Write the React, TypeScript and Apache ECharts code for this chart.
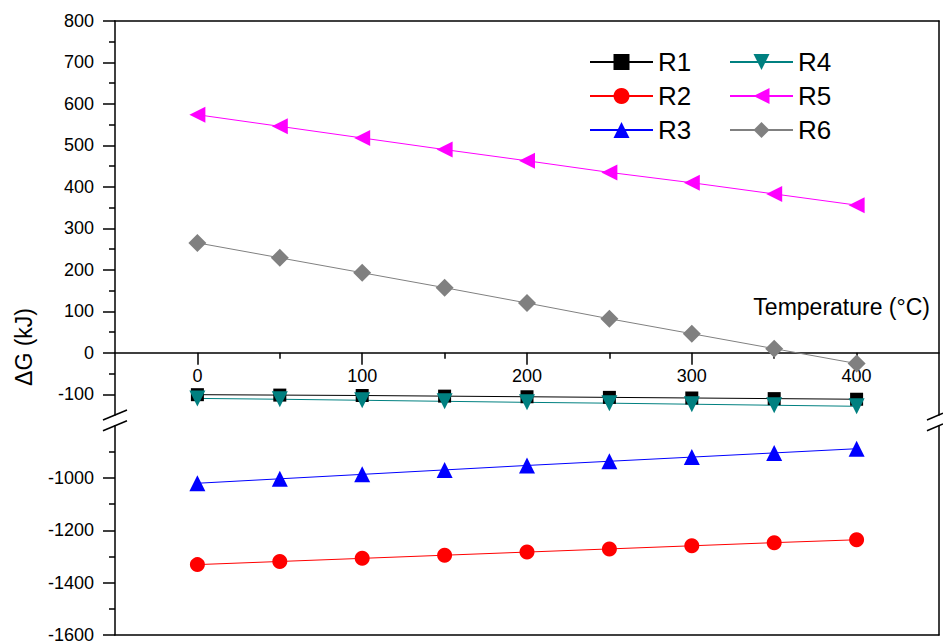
import React, { useEffect, useRef } from "react";
import * as echarts from "echarts";

const temps = [0, 50, 100, 150, 200, 250, 300, 350, 400];
const r1 = [-101, -102, -103, -104.5, -106, -107.5, -109, -110.5, -112];
const r2 = [-1331, -1319, -1307, -1295, -1283, -1271, -1259, -1247, -1236];
const r3 = [-1020, -1003, -986, -969, -952, -936, -920, -904, -888];
const r4 = [-110, -112, -114.5, -117, -119.5, -121.5, -124, -126.5, -129];
const r5 = [574, 546, 518, 490, 463, 435, 410, 383, 356];
const r6 = [265, 229, 193, 157, 120, 82, 46, 10, -26];

const xMajorTicks = [0, 100, 200, 300, 400];
const xMinorTicks = [50, 150, 250, 350];
const yUpperMajor = [-100, 0, 100, 200, 300, 400, 500, 600, 700, 800];
const yUpperMinor = [-50, 50, 150, 250, 350, 450, 550, 650, 750];
const yLowerMajor = [-1600, -1400, -1200, -1000];
const yLowerMinor = [-1500, -1300, -1100, -900];

const FONT = "'Liberation Sans', Arial, sans-serif";
const AX = "#000";
const LW = 1.5;

const UP_TOP = 21;
const UP_H = 394;
const UP_MIN = -150;
const UP_MAX = 800;
// pixel distance from the upper grid's bottom edge to its zero line
const ZERO_OFFSET = -(UP_H * (0 - UP_MIN)) / (UP_MAX - UP_MIN);

const pairs = (ys: number[]) => temps.map((t, i) => [t, ys[i]]);
const plain = (v: number) => String(v);

export default function App() {
  const ref = useRef<HTMLDivElement>(null);
  useEffect(() => {
    if (!ref.current) return;
    const chart = echarts.init(ref.current, null, { renderer: "svg" });
    const lineOnly = { show: true, onZero: false, lineStyle: { color: AX, width: LW } };
    const none = { show: false };
    const option: any = {
      animation: false,
      backgroundColor: "#fff",
      grid: [
        { left: 115, right: 4, top: UP_TOP, height: UP_H },
        { left: 115, right: 4, top: 425.7, height: 209.3 },
      ],
      xAxis: [
        {
          gridIndex: 0, type: "value", min: -50, max: 450, position: "bottom", offset: ZERO_OFFSET,
          axisLine: lineOnly,
          axisTick: { show: true, length: 12, customValues: xMajorTicks, lineStyle: { color: AX, width: LW } },
          axisLabel: { show: true, customValues: xMajorTicks, formatter: plain, fontSize: 18, fontFamily: FONT, color: "#000", margin: 14 },
          splitLine: none,
        },
        {
          gridIndex: 0, type: "value", min: -50, max: 450, position: "bottom", offset: ZERO_OFFSET,
          axisLine: { show: false, onZero: false },
          axisTick: { show: true, length: 6, customValues: xMinorTicks, lineStyle: { color: AX, width: LW } },
          axisLabel: none, splitLine: none,
        },
        {
          gridIndex: 0, type: "value", min: -50, max: 450, position: "top",
          axisLine: lineOnly, axisTick: none, axisLabel: none, splitLine: none,
        },
        {
          gridIndex: 1, type: "value", min: -50, max: 450, position: "bottom",
          axisLine: lineOnly, axisTick: none, axisLabel: none, splitLine: none,
        },
      ],
      yAxis: [
        {
          gridIndex: 0, type: "value", min: UP_MIN, max: UP_MAX, position: "left",
          axisLine: lineOnly,
          axisTick: { show: true, length: 12, customValues: yUpperMajor, lineStyle: { color: AX, width: LW } },
          axisLabel: { show: true, customValues: yUpperMajor, formatter: plain, fontSize: 18, fontFamily: FONT, color: "#000", margin: 21 },
          splitLine: none,
        },
        {
          gridIndex: 0, type: "value", min: UP_MIN, max: UP_MAX, position: "left",
          axisLine: { show: false, onZero: false },
          axisTick: { show: true, length: 6, customValues: yUpperMinor, lineStyle: { color: AX, width: LW } },
          axisLabel: none, splitLine: none,
        },
        {
          gridIndex: 0, type: "value", min: UP_MIN, max: UP_MAX, position: "right",
          axisLine: lineOnly, axisTick: none, axisLabel: none, splitLine: none,
        },
        {
          gridIndex: 1, type: "value", min: -1600, max: -800, position: "left",
          axisLine: lineOnly,
          axisTick: { show: true, length: 12, customValues: yLowerMajor, lineStyle: { color: AX, width: LW } },
          axisLabel: { show: true, customValues: yLowerMajor, formatter: plain, fontSize: 18, fontFamily: FONT, color: "#000", margin: 21 },
          splitLine: none,
        },
        {
          gridIndex: 1, type: "value", min: -1600, max: -800, position: "left",
          axisLine: { show: false, onZero: false },
          axisTick: { show: true, length: 6, customValues: yLowerMinor, lineStyle: { color: AX, width: LW } },
          axisLabel: none, splitLine: none,
        },
        {
          gridIndex: 1, type: "value", min: -1600, max: -800, position: "right",
          axisLine: lineOnly, axisTick: none, axisLabel: none, splitLine: none,
        },
      ],
      legend: [
        {
          data: ["R1", "R2", "R3"], orient: "vertical", left: 584, top: 44,
          itemWidth: 63, itemHeight: 20, itemGap: 8,
          textStyle: { fontSize: 26, fontFamily: FONT, color: "#000" },
        },
        {
          data: ["R4", "R5", "R6"], orient: "vertical", left: 724, top: 44,
          itemWidth: 63, itemHeight: 20, itemGap: 8,
          textStyle: { fontSize: 26, fontFamily: FONT, color: "#000" },
        },
      ],
      series: [
        {
          name: "R1", type: "line", xAxisIndex: 0, yAxisIndex: 0, data: pairs(r1),
          symbol: "rect", symbolSize: 13, lineStyle: { color: "#000", width: 1 },
          itemStyle: { color: "#000" },
        },
        {
          name: "R2", type: "line", xAxisIndex: 3, yAxisIndex: 3, data: pairs(r2),
          symbol: "circle", symbolSize: 15, lineStyle: { color: "#ff0000", width: 1 },
          itemStyle: { color: "#ff0000" },
        },
        {
          name: "R3", type: "line", xAxisIndex: 3, yAxisIndex: 3, data: pairs(r3),
          symbol: "triangle", symbolSize: 16, lineStyle: { color: "#0000ff", width: 1 },
          itemStyle: { color: "#0000ff" },
        },
        {
          name: "R4", type: "line", xAxisIndex: 0, yAxisIndex: 0, data: pairs(r4),
          symbol: "triangle", symbolRotate: 180, symbolSize: 16, lineStyle: { color: "#008080", width: 1 },
          itemStyle: { color: "#008080" },
        },
        {
          name: "R5", type: "line", xAxisIndex: 0, yAxisIndex: 0, data: pairs(r5),
          symbol: "triangle", symbolRotate: 90, symbolSize: 16, lineStyle: { color: "#ff00ff", width: 1 },
          itemStyle: { color: "#ff00ff" },
        },
        {
          name: "R6", type: "line", xAxisIndex: 0, yAxisIndex: 0, data: pairs(r6),
          symbol: "diamond", symbolSize: 18, lineStyle: { color: "#808080", width: 1 },
          itemStyle: { color: "#808080" },
        },
      ],
      graphic: [
        { type: "line", shape: { x1: 103, y1: 420, x2: 127, y2: 410 }, style: { stroke: AX, lineWidth: LW } },
        { type: "line", shape: { x1: 103, y1: 430.7, x2: 127, y2: 420.7 }, style: { stroke: AX, lineWidth: LW } },
        { type: "line", shape: { x1: 927, y1: 420, x2: 943, y2: 413.3 }, style: { stroke: AX, lineWidth: LW } },
        { type: "line", shape: { x1: 927, y1: 430.7, x2: 943, y2: 424 }, style: { stroke: AX, lineWidth: LW } },
        {
          type: "text", x: 930, y: 307,
          style: { text: "Temperature (°C)", font: `23px ${FONT}`, fill: "#000", textAlign: "right", textVerticalAlign: "middle" },
        },
        {
          type: "text", x: 24, y: 347, rotation: Math.PI / 2,
          style: { text: "ΔG (kJ)", font: `23px ${FONT}`, fill: "#000", textAlign: "center", textVerticalAlign: "middle" },
        },
      ],
    };
    chart.setOption(option);
    return () => chart.dispose();
  }, []);
  return (
    <div
      ref={ref}
      style={{ position: "fixed", left: 0, top: 0, width: 943, height: 644, background: "#fff" }}
    />
  );
}
